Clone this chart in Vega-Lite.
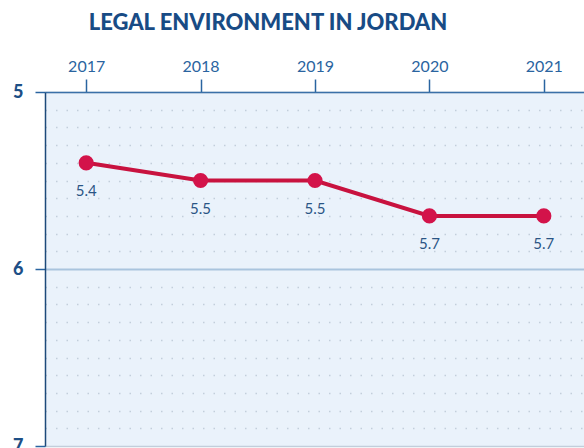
{
  "$schema": "https://vega.github.io/schema/vega-lite/v6.json",
  "autosize": "none",
  "width": 540,
  "height": 354,
  "padding": {"left": 45, "top": 92, "right": 0, "bottom": 2},
  "background": "white",
  "view": {"fill": "#eaf2fb", "stroke": null},
  "title": {
    "text": "LEGAL ENVIRONMENT IN JORDAN",
    "font": "Lato",
    "fontSize": 22,
    "fontWeight": 900,
    "color": "#184b85",
    "anchor": "middle",
    "dx": -47,
    "offset": 23
  },
  "data": {
    "values": [
      {"year": "2017", "score": 5.4},
      {"year": "2018", "score": 5.5},
      {"year": "2019", "score": 5.5},
      {"year": "2020", "score": 5.7},
      {"year": "2021", "score": 5.7}
    ]
  },
  "encoding": {
    "x": {
      "field": "year",
      "type": "ordinal",
      "scale": {"type": "point", "padding": 0.36},
      "axis": {
        "orient": "top",
        "title": null,
        "labelAngle": 0,
        "labelFont": "Lato",
        "labelFontSize": 16,
        "labelColor": "#2a64a0",
        "labelPadding": 5,
        "tickColor": "#2a64a0",
        "tickSize": 13,
        "tickWidth": 1.5,
        "domainColor": "#3a70a8",
        "domainWidth": 1.5,
        "grid": false
      }
    },
    "y": {
      "field": "score",
      "type": "quantitative",
      "scale": {"domain": [5, 7], "reverse": true, "nice": false, "zero": false},
      "axis": {
        "title": null,
        "values": [5, 5.1, 5.2, 5.3, 5.4, 5.5, 5.6, 5.7, 5.8, 5.9, 6, 6.1, 6.2, 6.3, 6.4, 6.5, 6.6, 6.7, 6.8, 6.9, 7],
        "labelExpr": "(datum.value == 5 || datum.value == 6 || datum.value == 7) ? format(datum.value, 'd') : ''",
        "labelFont": "Lato",
        "labelFontSize": 18,
        "labelFontWeight": 900,
        "labelColor": "#1d4f86",
        "labelPadding": 12,
        "tickSize": 10,
        "tickWidth": 1.5,
        "tickColor": "#2a64a0",
        "tickOpacity": {"condition": {"test": "datum.value == 5 || datum.value == 6 || datum.value == 7", "value": 1}, "value": 0},
        "domainColor": "#1d4a7a",
        "domainWidth": 1.5,
        "grid": true,
        "gridColor": {"condition": {"test": "datum.value == 6", "value": "#a9c4de"}, "value": "#c2cedb"},
        "gridWidth": {"condition": {"test": "datum.value == 6", "value": 2}, "value": 1.5},
        "gridDash": {"condition": {"test": "datum.value == 6 || datum.value == 7 || datum.value == 5", "value": []}, "value": [1.5, 9]}
      }
    }
  },
  "layer": [
    {
      "mark": {"type": "line", "color": "#c8123f", "strokeWidth": 4}
    },
    {
      "mark": {"type": "circle", "color": "#d3134a", "opacity": 1, "size": 230}
    },
    {
      "mark": {"type": "text", "dy": 28, "font": "Lato", "fontSize": 15, "color": "#2a5585", "baseline": "middle"},
      "encoding": {"text": {"field": "score", "type": "quantitative", "format": ".1f"}}
    }
  ]
}
